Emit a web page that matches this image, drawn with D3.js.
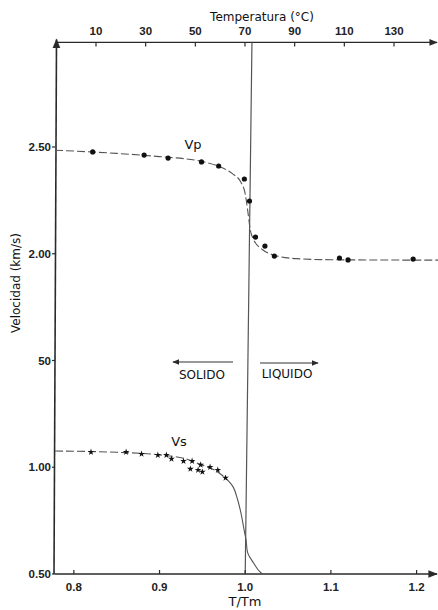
<!DOCTYPE html>
<meta charset="utf-8">
<style>
body { margin: 0; background: #fff; }
svg { display: block; font-family: "DejaVu Sans", sans-serif; }
.tick-lab { font-family: "Liberation Sans", sans-serif; font-weight: bold; font-size: 11.5px; fill: #222; }
</style>
<body></body>
<script src="https://d3js.org/d3.v7.min.js"></script>
<script>
// T/Tm ticks (bottom) and temperature ticks (top)
const ratioTicks = [0.8, 0.9, 1.0, 1.1, 1.2]
const tempTicks = [10, 30, 50, 70, 90, 110, 130]
const velTicks = [0.5, 1.0, 1.5, 2.0, 2.5]
const velTickLabels = ['0.50', '1.00', '50', '2.00', '2.50']

// measured Vp points [T/Tm, km/s]
const vpPoints = [
    [0.822, 2.477], [0.882, 2.462], [0.910, 2.448], [0.949, 2.430], [0.969, 2.411],
    [0.999, 2.350], [1.005, 2.247], [1.012, 2.078], [1.023, 2.036], [1.034, 1.989],
    [1.110, 1.980], [1.120, 1.971], [1.196, 1.975]
]
// fitted Vp curve
const vpCurve = [
    [0.778, 2.485], [0.85, 2.470], [0.90, 2.455], [0.95, 2.432], [0.97, 2.408],
    [0.985, 2.375], [0.995, 2.335], [1.0, 2.28], [1.003, 2.20], [1.006, 2.11],
    [1.010, 2.065], [1.020, 2.020], [1.035, 1.992], [1.06, 1.977], [1.10, 1.972],
    [1.225, 1.970]
]

// measured Vs points
const vsPoints = [
    [0.820, 1.071], [0.861, 1.071], [0.879, 1.062], [0.898, 1.057], [0.908, 1.057],
    [0.914, 1.039], [0.928, 1.029], [0.938, 1.029], [0.936, 0.992], [0.945, 0.987],
    [0.948, 1.011], [0.950, 0.978], [0.959, 1.001], [0.968, 0.987], [0.977, 0.950]
]
// fitted Vs curve, dashed part then solid drop
const vsCurveDashed = [
    [0.778, 1.076], [0.85, 1.070], [0.90, 1.058], [0.93, 1.040], [0.95, 1.010],
    [0.965, 0.985], [0.977, 0.950]
]
const vsCurveSolid = [
    [0.977, 0.950], [0.986, 0.907], [0.991, 0.850], [0.995, 0.786], [0.999, 0.700],
    [1.001, 0.659], [1.003, 0.598], [1.010, 0.550], [1.015, 0.520], [1.020, 0.500]
]

const meltRatio = 1.0
const meltTempTop = 72.8

const width = 438
const height = 610

const svg = d3.select('body').append('svg')
    .attr('width', width)
    .attr('height', height)

const x = d3.scaleLinear().domain([0.778, 1.225]).range([55, 438])
const y = d3.scaleLinear().domain([0.5, 2.5]).range([574, 147])
const xTemp = d3.scaleLinear().domain([10, 130]).range([96, 394])
const yTop = y(2.99)

const axisColor = '#2a2a2a'

svg.append('defs').append('marker')
    .attr('id', 'arrow')
    .attr('viewBox', '0 0 10 10')
    .attr('refX', 9).attr('refY', 5)
    .attr('markerWidth', 6).attr('markerHeight', 6)
    .attr('orient', 'auto')
    .append('path')
        .attr('d', 'M0,1 L10,5 L0,9 Z')
        .attr('fill', axisColor)

// frame lines
svg.append('line')
    .attr('x1', x.range()[0]).attr('x2', 437)
    .attr('y1', y(0.5)).attr('y2', y(0.5))
    .attr('stroke', axisColor).attr('stroke-width', 1.6)
    .attr('marker-end', 'url(#arrow)')
svg.append('line')
    .attr('x1', x.range()[0] + 1).attr('x2', 437)
    .attr('y1', yTop).attr('y2', yTop)
    .attr('stroke', axisColor).attr('stroke-width', 1.4)
    .attr('marker-end', 'url(#arrow)')
svg.append('line')
    .attr('x1', x.range()[0] - 1).attr('x2', x.range()[0] + 1.5)
    .attr('y1', y(0.5)).attr('y2', yTop - 3)
    .attr('stroke', axisColor).attr('stroke-width', 1.6)
    .attr('marker-end', 'url(#arrow)')

// melting line
svg.append('line')
    .attr('x1', x(meltRatio)).attr('y1', y(0.5))
    .attr('x2', xTemp(meltTempTop)).attr('y2', yTop)
    .attr('stroke', '#555').attr('stroke-width', 1.2)

// bottom ticks
const bt = svg.append('g')
bt.selectAll('line').data(ratioTicks).join('line')
    .attr('x1', d => x(d)).attr('x2', d => x(d))
    .attr('y1', y(0.5)).attr('y2', y(0.5) - 4)
    .attr('stroke', axisColor).attr('stroke-width', 1.2)
bt.selectAll('text').data(ratioTicks).join('text')
    .attr('class', 'tick-lab')
    .attr('x', d => x(d)).attr('y', 591)
    .attr('text-anchor', 'middle')
    .text(d => d.toFixed(1))

// top ticks
const tt = svg.append('g')
tt.selectAll('line').data(tempTicks).join('line')
    .attr('x1', d => xTemp(d)).attr('x2', d => xTemp(d))
    .attr('y1', yTop).attr('y2', yTop + 4)
    .attr('stroke', axisColor).attr('stroke-width', 1.2)
tt.selectAll('text').data(tempTicks).join('text')
    .attr('class', 'tick-lab')
    .attr('x', d => xTemp(d)).attr('y', 35)
    .attr('text-anchor', 'middle')
    .text(d => d)

// left ticks
const lt = svg.append('g')
lt.selectAll('line').data(velTicks).join('line')
    .attr('x1', x.range()[0] - 3).attr('x2', x.range()[0])
    .attr('y1', d => y(d)).attr('y2', d => y(d))
    .attr('stroke', axisColor).attr('stroke-width', 1.2)
lt.selectAll('text').data(velTicks).join('text')
    .attr('class', 'tick-lab')
    .attr('x', x.range()[0] - 4).attr('y', d => y(d) + 4)
    .attr('text-anchor', 'end')
    .text((d, i) => velTickLabels[i])

// curves
const line = d3.line().x(d => x(d[0])).y(d => y(d[1])).curve(d3.curveMonotoneX)

svg.append('path').datum(vpCurve)
    .attr('d', line)
    .attr('fill', 'none').attr('stroke', '#555').attr('stroke-width', 1.1)
    .attr('stroke-dasharray', '8,3')
svg.append('path').datum(vsCurveDashed)
    .attr('d', line)
    .attr('fill', 'none').attr('stroke', '#555').attr('stroke-width', 1.1)
    .attr('stroke-dasharray', '8,3')
svg.append('path').datum(vsCurveSolid)
    .attr('d', d3.line().x(d => x(d[0])).y(d => y(d[1])).curve(d3.curveCatmullRom))
    .attr('fill', 'none').attr('stroke', '#555').attr('stroke-width', 1.1)

// markers
svg.append('g').selectAll('circle').data(vpPoints).join('circle')
    .attr('cx', d => x(d[0])).attr('cy', d => y(d[1]))
    .attr('r', 2.6).attr('fill', '#111')

svg.append('g').selectAll('path').data(vsPoints).join('path')
    .attr('transform', d => `translate(${x(d[0])},${y(d[1])})`)
    .attr('d', d3.symbol(d3.symbolStar, 14))
    .attr('fill', '#111')

// labels
const label = (tx, ty, text, size, anchor) => svg.append('text')
    .attr('x', tx).attr('y', ty)
    .attr('text-anchor', anchor || 'middle')
    .attr('font-size', size)
    .attr('fill', '#111')
    .text(text)

label(262, 21, 'Temperatura (°C)', 12)
label(245, 606, 'T/Tm', 13)
label(193, 149, 'Vp', 13)
label(179, 446, 'Vs', 13)
label(202, 379, 'SOLIDO', 12)
label(287, 378, 'LIQUIDO', 12)

svg.append('text')
    .attr('transform', 'translate(20,283) rotate(-90)')
    .attr('text-anchor', 'middle')
    .attr('font-size', 12)
    .attr('fill', '#111')
    .text('Velocidad (km/s)')

// direction arrows
svg.append('line')
    .attr('x1', 233).attr('x2', 173).attr('y1', 362).attr('y2', 362)
    .attr('stroke', '#333').attr('stroke-width', 1.2)
    .attr('marker-end', 'url(#arrow)')
svg.append('line')
    .attr('x1', 260).attr('x2', 318).attr('y1', 363).attr('y2', 363)
    .attr('stroke', '#333').attr('stroke-width', 1.2)
    .attr('marker-end', 'url(#arrow)')
</script>
